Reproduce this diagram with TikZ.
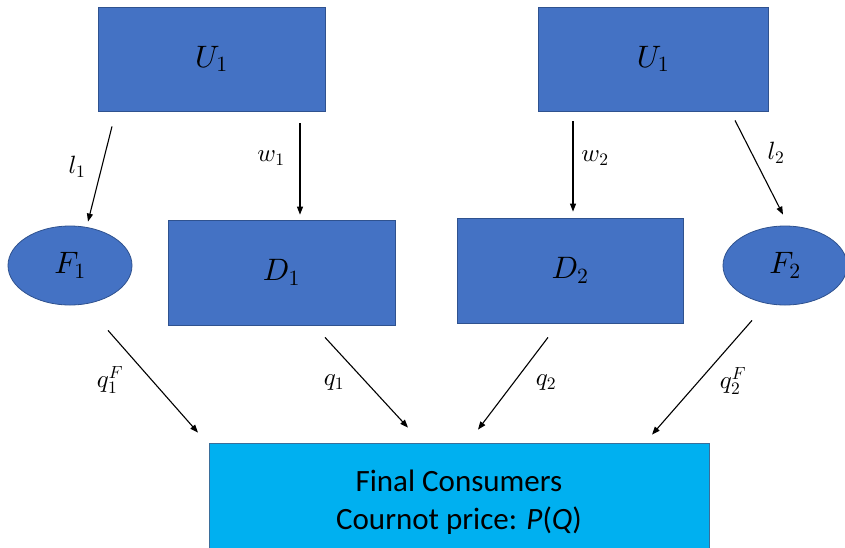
\documentclass[tikz,border=0pt]{standalone}
\usepackage{fontspec}
\newfontfamily\calfont{Carlito}
% scalable math italic and symbols at any size
\DeclareFontShape{OML}{cmm}{m}{it}{<->cmmi10}{}
\DeclareFontShape{OMS}{cmsy}{m}{n}{<->cmsy10}{}
\DeclareFontShape{OT1}{cmr}{m}{n}{<->cmr10}{}
\usetikzlibrary{shapes.geometric,arrows.meta}
\definecolor{boxblue}{HTML}{4472C4}
\definecolor{boxedge}{HTML}{2F528F}
\definecolor{consumer}{HTML}{00B0F0}
\definecolor{consedge}{HTML}{3A6E9A}
\tikzset{
  firm/.style={rectangle, fill=boxblue, draw=boxedge, line width=0.8pt,
    font=\fontsize{31}{35}\selectfont},
  fringe/.style={ellipse, fill=boxblue, draw=boxedge, line width=0.8pt,
    minimum width=124pt, minimum height=79pt, inner sep=0pt,
    font=\fontsize{31}{35}\selectfont},
  arr/.style={-{Triangle[length=8pt,width=6pt]}, line width=1.1pt},
  lab/.style={font=\fontsize{25}{29}\selectfont, inner sep=0pt},
}
\begin{document}
\begin{tikzpicture}[x=1pt,y=-1pt]
\useasboundingbox (0,0) rectangle (845,547);
\clip (0,0) rectangle (845,547);
\fill[white] (0,0) rectangle (845,547);

% upstream firms
\node[firm, minimum width=227pt, minimum height=104pt] (ua) at (211.5,59) {$U_1$};
\node[firm, minimum width=230pt, minimum height=104pt] (ub) at (653,59) {$U_1$};

% downstream firms and fringe
\node[fringe] (f1) at (70,265.5) {$F_1$};
\node[firm, minimum width=227pt, minimum height=105pt] (d1) at (281.5,272.5) {$D_1$};
\node[firm, minimum width=226pt, minimum height=105pt] (d2) at (570,270.5) {$D_2$};
\node[fringe] (f2) at (785,265.5) {$F_2$};

% final consumers
\node[rectangle, fill=consumer, draw=consedge, line width=0.8pt,
  minimum width=500pt, minimum height=118pt, align=center,
  font=\calfont\fontsize{31}{38}\selectfont] (fc) at (459,502)
  {Final Consumers\\Cournot price: \textit{P}(\textit{Q})};

% input flows
\draw[arr] ([xshift=-99.5pt,yshift=-15pt]ua.south) -- ([xshift=18pt,yshift=4pt]f1.north);
\draw[arr] ([xshift=88.5pt,yshift=-12pt]ua.south) -- ([xshift=18.5pt,yshift=5pt]d1.north);
\draw[arr] ([xshift=-80pt,yshift=-10pt]ub.south) -- ([xshift=3pt,yshift=6pt]d2.north);
\draw[arr] ([xshift=82pt,yshift=-9pt]ub.south) -- ([xshift=-2pt,yshift=11pt]f2.north);

% output flows
\draw[arr] ([xshift=38pt,yshift=-25pt]f1.south) -- ([xshift=-261pt,yshift=10pt]fc.north);
\draw[arr] ([xshift=43.5pt,yshift=-12pt]d1.south) -- ([xshift=-51pt,yshift=15pt]fc.north);
\draw[arr] ([xshift=-22pt,yshift=-14pt]d2.south) -- ([xshift=19pt,yshift=13pt]fc.north);
\draw[arr] ([xshift=-33pt,yshift=-15pt]f2.south) -- ([xshift=193pt,yshift=8pt]fc.north);

% labels
\node[lab] (ll1) at (77,167) {$l_1$};
\node[lab] (lw1) at (271,158) {$w_1$};
\node[lab] (lw2) at (595,158) {$w_2$};
\node[lab] (ll2) at (776,153) {$l_2$};
\node[lab] (lq1f) at (110,380) {$q_1^F$};
\node[lab] (lq1) at (334,383) {$q_1$};
\node[lab] (lq2) at (546,383) {$q_2$};
\node[lab] (lq2f) at (733,381) {$q_2^F$};
\end{tikzpicture}
\end{document}
